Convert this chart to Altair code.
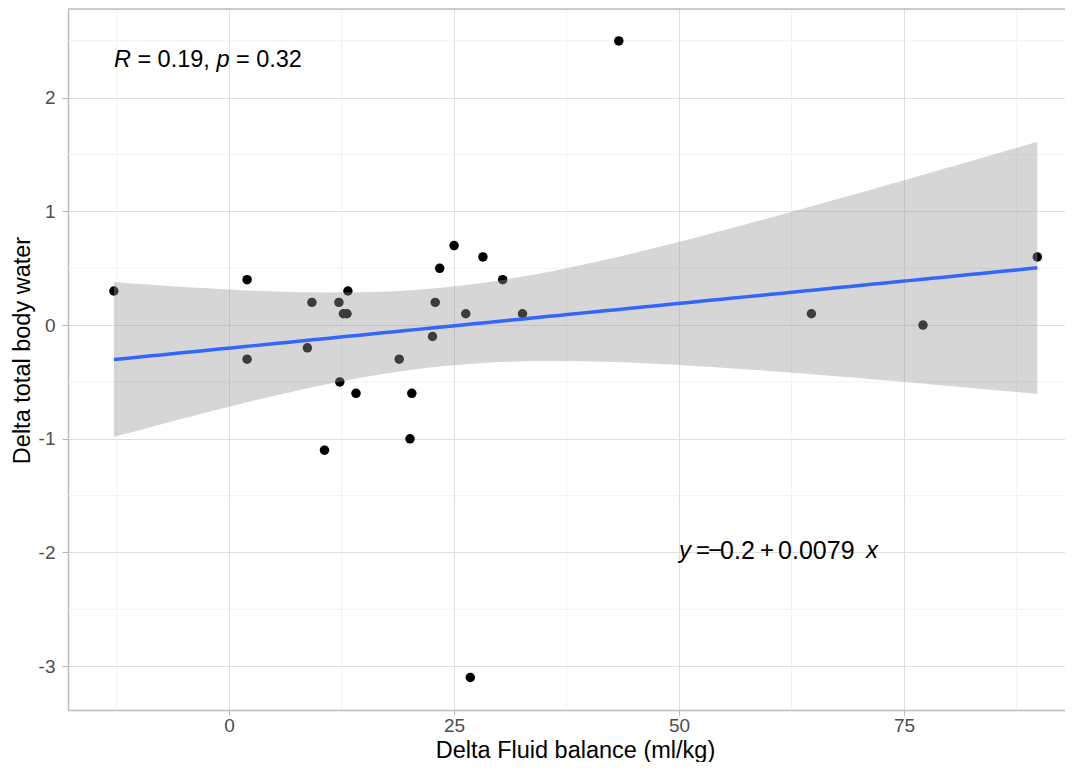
import altair as alt
import numpy as np
import pandas as pd

# ---- data ----
fluid_balance = [-12.8, 2.0, 2.0, 8.7, 9.2, 10.6, 12.2, 12.3, 12.7, 13.1, 13.2, 14.1,
                 18.9, 20.1, 20.3, 22.6, 22.9, 23.4, 25.0, 26.3, 26.8, 28.2, 30.4,
                 32.6, 43.3, 64.7, 77.1, 89.8]
total_body_water = [0.3, 0.4, -0.3, -0.2, 0.2, -1.1, 0.2, -0.5, 0.1, 0.1, 0.3, -0.6,
                    -0.3, -1.0, -0.6, -0.1, 0.2, 0.5, 0.7, 0.1, -3.1, 0.6, 0.4,
                    0.1, 2.5, 0.1, 0.0, 0.6]

x_ticks = [0, 25, 50, 75]
y_ticks = [-3, -2, -1, 0, 1, 2]
x_minor = [-12.5, 12.5, 37.5, 62.5, 87.5]
y_minor = [-2.5, -1.5, -0.5, 0.5, 1.5, 2.5]

cor_label = ["R", "=", "0.19,", "p", "=", "0.32"]
eq_label = ["y", "=", "\u2212", "0.2", "+", "0.0079", "x"]
cor_pos = (-12.8, 2.334)
eq_pos = (50, -1.99)

# layout of annotation pieces (pixel offsets / sizes / styles)
cor_dx = [0, 23.5, 43.7, 102.5, 122, 142.3]
cor_size = [23.5] * 6
cor_style = ["italic", "normal", "normal", "italic", "normal", "normal"]
eq_dx = [0, 17, 29, 41, 81, 99, 187]
eq_size = [24, 24, 24, 25, 24, 25, 24]
eq_style = ["italic", "normal", "normal", "normal", "normal", "normal", "italic"]

# ---- linear model fit with 95% confidence band (as geom_smooth(method="lm")) ----
xa = np.array(fluid_balance)
ya = np.array(total_body_water)
n = len(xa)
b1, b0 = np.polyfit(xa, ya, 1)
resid = ya - (b0 + b1 * xa)
s = np.sqrt(np.sum(resid ** 2) / (n - 2))
sxx = np.sum((xa - xa.mean()) ** 2)
xs = np.linspace(xa.min(), xa.max(), 80)
fit = b0 + b1 * xs
se = s * np.sqrt(1 / n + (xs - xa.mean()) ** 2 / sxx)
t975 = 2.0555  # t quantile, 26 degrees of freedom
smooth = pd.DataFrame({"x": xs, "fit": fit, "lo": fit - t975 * se, "hi": fit + t975 * se})

pts = pd.DataFrame({"x": fluid_balance, "y": total_body_water})

FONT = "Liberation Sans"
W, H = 997, 701
xscale = alt.Scale(domain=[-17.9, -17.9 + W / 9.0], nice=False, zero=False)
yscale = alt.Scale(domain=[-3.386, 2.781], nice=False, zero=False)

minus_fix = "datum.value < 0 ? '-' + abs(datum.value) : '' + datum.value"

xaxis = alt.Axis(values=x_ticks, title="Delta Fluid balance (ml/kg)", grid=True,
                 gridColor="#dedede", gridWidth=1, tickColor="#b3b3b3", tickSize=5,
                 tickWidth=1, domainColor="#bdbdbd", domainWidth=1.5,
                 labelPadding=1.5, labelFontSize=19, labelColor="#4d4d4d", labelFont=FONT,
                 labelExpr=minus_fix,
                 titleFont=FONT, titleFontSize=23.5, titleFontWeight="normal", titleColor="black",
                 titleX=507, titleY=47, titleAlign="center", titleBaseline="alphabetic",
                 labelFlush=False)
yaxis = alt.Axis(values=y_ticks, title="Delta total body water", grid=True,
                 gridColor="#dedede", gridWidth=1, tickColor="#b3b3b3", tickSize=6,
                 tickWidth=1, domainColor="#bdbdbd", domainWidth=1.5,
                 labelPadding=7, labelFontSize=19, labelColor="#4d4d4d", labelFont=FONT,
                 labelExpr=minus_fix,
                 titleFont=FONT, titleFontSize=23.5, titleFontWeight="normal", titleColor="black",
                 titleX=-46, titleY=341, titleAngle=270, titleAlign="center",
                 titleBaseline="middle")

minor_x = alt.Chart(pd.DataFrame({"v": x_minor})).mark_rule(color="#eeeeee", strokeWidth=0.8).encode(
    x=alt.X("v:Q", scale=xscale, axis=xaxis))
minor_y = alt.Chart(pd.DataFrame({"v": y_minor})).mark_rule(color="#eeeeee", strokeWidth=0.8).encode(
    y=alt.Y("v:Q", scale=yscale, axis=yaxis))

top_border = alt.Chart(pd.DataFrame({"a": [0]})).mark_rule(color="#bdbdbd", strokeWidth=1.5).encode(
    y=alt.value(0), x=alt.value(0), x2=alt.value(W))

points = alt.Chart(pts).mark_circle(size=90, color="black", opacity=1).encode(
    x=alt.X("x:Q", scale=xscale, axis=xaxis),
    y=alt.Y("y:Q", scale=yscale, axis=yaxis))

band = alt.Chart(smooth).mark_area(color="#999999", opacity=0.4).encode(
    x=alt.X("x:Q", scale=xscale),
    y=alt.Y("lo:Q", scale=yscale),
    y2="hi:Q")

line = alt.Chart(smooth).mark_line(color="#3366FF", strokeWidth=3.5).encode(
    x=alt.X("x:Q", scale=xscale),
    y=alt.Y("fit:Q", scale=yscale))

texts = []
for txt, dx, fs, st in zip(cor_label, cor_dx, cor_size, cor_style):
    texts.append(alt.Chart(pd.DataFrame({"x": [cor_pos[0]], "y": [cor_pos[1]], "t": [txt]}))
                 .mark_text(align="left", baseline="middle", dx=dx, fontSize=fs, font=FONT,
                            fontStyle=st, color="black")
                 .encode(x=alt.X("x:Q", scale=xscale), y=alt.Y("y:Q", scale=yscale), text="t:N"))
for txt, dx, fs, st in zip(eq_label, eq_dx, eq_size, eq_style):
    texts.append(alt.Chart(pd.DataFrame({"x": [eq_pos[0]], "y": [eq_pos[1]], "t": [txt]}))
                 .mark_text(align="left", baseline="middle", dx=dx, fontSize=fs, font=FONT,
                            fontStyle=st, color="black")
                 .encode(x=alt.X("x:Q", scale=xscale), y=alt.Y("y:Q", scale=yscale), text="t:N"))

chart = alt.layer(minor_x, minor_y, top_border, points, band, line, *texts).properties(
    width=W, height=H, autosize="none",
    padding={"left": 60, "top": 1, "right": 0, "bottom": 52},
).configure_view(stroke=None).configure(background="white")

chart.save("out.html", embed_options={"renderer": "svg", "actions": False})
